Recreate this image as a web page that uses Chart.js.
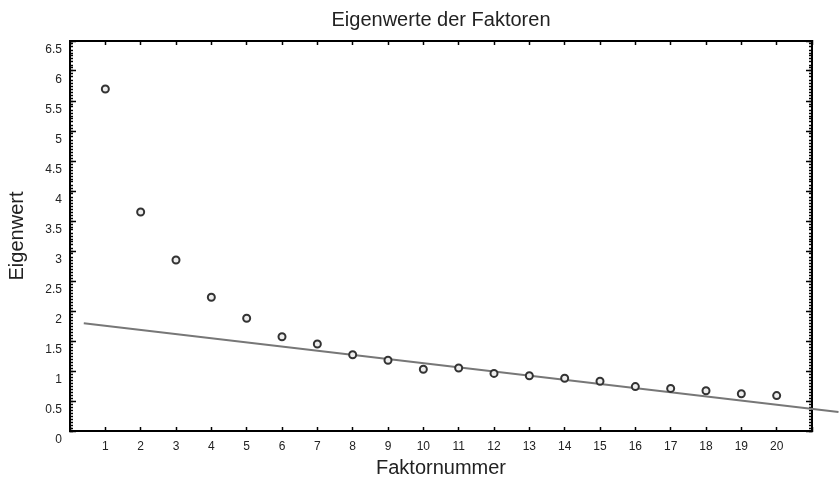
<!DOCTYPE html>
<html lang="de">
<head>
    <meta charset="UTF-8">
    <title>Eigenwerte der Faktoren</title>
    <script src="https://cdn.jsdelivr.net/npm/chart.js"></script>
    <style>
        body { margin: 0; background: #fff; }
    </style>
</head>
<body>
    <canvas id="screeChart" width="840" height="485"></canvas>
    <script>
        // Faktornummer / Eigenwert
        const factorNo = [1, 2, 3, 4, 5, 6, 7, 8, 9, 10, 11, 12, 13, 14, 15, 16, 17, 18, 19, 20];
        const eigenvalues = [5.70, 3.65, 2.85, 2.23, 1.88, 1.57, 1.45, 1.27, 1.18, 1.03,
                             1.05, 0.96, 0.92, 0.88, 0.83, 0.74, 0.71, 0.67, 0.62, 0.59];
        // straight reference line
        const lineX = [0.39, 21.75];
        const lineY = [1.795, 0.317];

        const font = "'Liberation Sans', Arial, sans-serif";
        const ink = '#222';

        const points = factorNo.map((f, i) => ({ x: f, y: eigenvalues[i] }));
        const linePts = lineX.map((x, i) => ({ x: x, y: lineY[i] }));

        // helper for frame axes without labels
        function frameAxis(pos, step, len, border, weight, min, max) {
            return {
                type: 'linear',
                position: pos,
                min: min,
                max: max,
                weight: weight,
                border: { display: border, color: '#000', width: 2 },
                grid: { drawOnChartArea: false, drawTicks: true, tickLength: -len, tickColor: '#000', tickWidth: 1.5 },
                ticks: { display: false, stepSize: step },
                afterFit: (s) => { if (pos === 'left' || pos === 'right') s.width = 0; else s.height = 0; }
            };
        }

        new Chart(document.getElementById('screeChart'), {
            type: 'scatter',
            data: {
                datasets: [
                    {
                        data: points,
                        pointRadius: 3.5,
                        pointBorderWidth: 2,
                        pointBorderColor: '#333',
                        pointBackgroundColor: '#eee',
                        order: 1
                    },
                    {
                        data: linePts,
                        showLine: true,
                        borderColor: '#777',
                        borderWidth: 2,
                        pointRadius: 0,
                        clip: false,
                        order: 2
                    }
                ]
            },
            options: {
                responsive: false,
                animation: false,
                layout: { padding: { left: 0, right: 28, top: 0, bottom: 0 } },
                plugins: {
                    legend: { display: false },
                    tooltip: { enabled: false },
                    title: {
                        display: true,
                        text: 'Eigenwerte der Faktoren',
                        fullSize: false,
                        color: ink,
                        font: { family: font, size: 20, weight: 'normal', lineHeight: 1.2 },
                        padding: { top: 8, bottom: 9 }
                    }
                },
                scales: {
                    x: {
                        type: 'linear',
                        position: 'bottom',
                        min: 0,
                        max: 21,
                        border: { display: true, color: '#000', width: 2 },
                        grid: { drawOnChartArea: false, drawTicks: true, tickLength: -4, tickColor: '#000', tickWidth: 1.5 },
                        ticks: {
                            stepSize: 1,
                            padding: 12,
                            color: ink,
                            font: { family: font, size: 12 },
                            callback: (v) => (v >= 1 && v <= 20) ? v : ''
                        },
                        title: {
                            display: true,
                            text: 'Faktornummer',
                            color: ink,
                            font: { family: font, size: 20 },
                            padding: { top: 0, bottom: 5 }
                        },
                        afterFit: (s) => { s.height = 54; }
                    },
                    x2: frameAxis('top', 1, 4, true, 0, 0, 21),
                    y: {
                        type: 'linear',
                        position: 'left',
                        min: 0,
                        max: 6.5,
                        weight: 1,
                        border: { display: true, color: '#000', width: 2 },
                        grid: { drawOnChartArea: false, drawTicks: true, tickLength: -6, tickColor: '#000', tickWidth: 1.5 },
                        ticks: {
                            stepSize: 0.5,
                            padding: 14,
                            labelOffset: 9,
                            color: ink,
                            font: { family: font, size: 12 },
                            callback: (v) => String(+v.toFixed(2))
                        },
                        title: {
                            display: true,
                            text: 'Eigenwert',
                            color: ink,
                            font: { family: font, size: 20 },
                            padding: { top: 5, bottom: 0 }
                        },
                        afterFit: (s) => { s.width = 70; }
                    },
                    yMinor: frameAxis('left', 0.05, 3, false, 0, 0, 6.5),
                    y2: frameAxis('right', 0.5, 6, true, 0, 0, 6.5),
                    y2Minor: frameAxis('right', 0.05, 3, false, 1, 0, 6.5)
                }
            }
        });
    </script>
</body>
</html>
